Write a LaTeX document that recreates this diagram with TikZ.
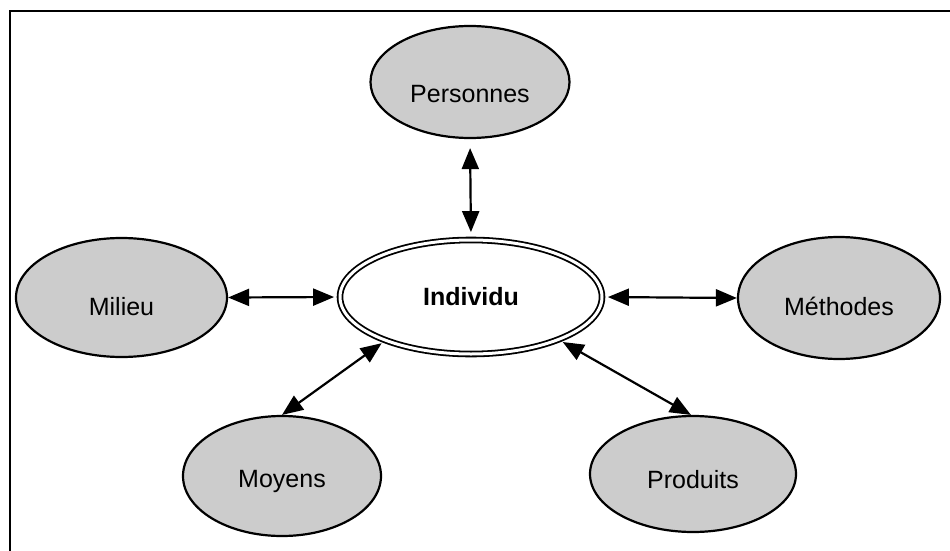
\documentclass[tikz,border=0pt]{standalone}
\usepackage{fontspec}
\setmainfont{Liberation Sans}
\usetikzlibrary{arrows.meta,shapes.geometric}
\tikzset{
  bubble/.style={ellipse, draw=black, line width=2.2pt, fill=black!20, inner sep=0pt},
  lbl/.style={font=\fontsize{25}{30}\selectfont, inner sep=0pt},
  core/.style={ellipse, draw=black, double=white, line width=1.8pt, double distance=3pt,
               inner sep=0pt, font=\fontsize{25}{30}\selectfont\bfseries},
  link/.style={{Triangle[length=21pt,width=17pt]}-{Triangle[length=21pt,width=17pt]}, line width=2.2pt},
  frame/.style={line width=2pt}
}
\begin{document}
\begin{tikzpicture}[x=1pt,y=-1pt]
\useasboundingbox (0,0) rectangle (950,551);
\draw[frame] (10,551) -- (10,11) -- (950,11);

\node[core, minimum width=262pt, minimum height=114pt] (ind) at (471,297) {Individu};
\node[bubble, minimum width=199pt, minimum height=112pt,
      label={[lbl,yshift=-12pt]center:Personnes}] (pers) at (470,82) {};
\node[bubble, minimum width=211pt, minimum height=119pt,
      label={[lbl,yshift=-9pt]center:Milieu}] (mil) at (121.5,297.5) {};
\node[bubble, minimum width=202pt, minimum height=122pt,
      label={[lbl,yshift=-8pt]center:Méthodes}] (meth) at (839,298) {};
\node[bubble, minimum width=198pt, minimum height=120pt,
      label={[lbl,yshift=-5pt]center:Moyens}] (moy) at (282,476) {};
\node[bubble, minimum width=206pt, minimum height=116pt,
      label={[lbl,yshift=-6pt]center:Produits}] (prod) at (693,474) {};

\draw[link, shorten <=9pt, shorten >=7pt] (pers.south) -- (ind.north);
\draw[link, shorten >=5pt] (mil.east) -- (ind.west);
\draw[link, shorten <=5pt] (ind.east) -- (meth.west);
\draw[link, shorten <=4pt] (ind.207) -- (moy.north);
\draw[link, shorten <=4pt] (ind.334) -- (prod.92);
\end{tikzpicture}
\end{document}
